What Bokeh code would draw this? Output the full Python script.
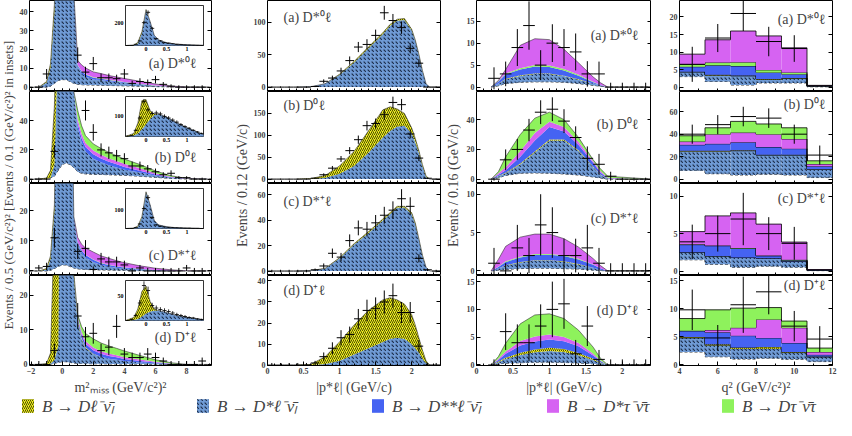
import numpy as np
from bokeh.plotting import figure
from bokeh.layouts import row, column
from bokeh.models import Range1d, FixedTicker, Label, Legend, LegendItem, LinearAxis
from bokeh.embed import file_html
from bokeh.resources import INLINE
from bokeh.core.properties import value

nan = float("nan")
SERIF = "Liberation Serif"

# ---------------- column 1 : m2_miss ----------------
MM_X = [-2.1, -1.5, -1.0, -0.75, -0.5, -0.25, 0.0, 0.25, 0.5, 0.75, 1.0, 1.25, 1.5, 2.0, 2.5, 3.0, 3.5, 4.0, 5.0, 6.0, 7.0, 8.0, 9.6]
MM_A_BG = [0, 0, 0, 0.5, 2, 3.5, 4, 4, 3, 2, 1.5, 1.3, 1.2, 1.1, 1.0, 0.9, 0.8, 0.7, 0.5, 0.3, 0.1, 0, 0]
MM_A_DSL = [0, 0, 2.5, 10, 38, 150, 400, 400, 150, 48, 9.5, 6, 4.5, 3, 2.8, 2.3, 1.9, 1.5, 0.9, 0.4, 0.1, 0, 0]
MM_A_DL = [0, 0, 0.5, 2, 4, 3, 1, 0, 0, 0, 0, 0, 0, 0, 0, 0, 0, 0, 0, 0, 0, 0, 0]
MM_A_DSS = [0, 0, 0, 0, 0, 0, 0, 0, 0, 0, 0.5, 1.0, 1.0, 0.9, 0.7, 0.6, 0.5, 0.4, 0.3, 0.1, 0, 0, 0]
MM_A_DT = [0, 0, 0, 0, 0, 0, 0, 0, 0, 0, 0.2, 0.3, 0.3, 0.3, 0.3, 0.2, 0.2, 0.2, 0.1, 0.1, 0, 0, 0]
MM_A_DST = [0, 0, 0, 0, 0, 0, 0, 0, 0, 0, 2.5, 3.2, 3.2, 2.8, 2.4, 2.2, 2.0, 1.8, 1.3, 0.8, 0.4, 0.1, 0]

MM_B_BG = [0, 0, 0.3, 0.8, 2, 6, 10, 11, 10, 8, 5, 4, 3.6, 3.3, 3.2, 3.0, 2.8, 2.6, 2.0, 1.2, 0.5, 0.1, 0]
MM_B_DSL = [0, 0, 0, 0.2, 8, 94, 490, 489, 190, 52, 30, 21, 15.4, 10.7, 8.3, 6.5, 5.2, 3.9, 2.5, 1.3, 0.5, 0.2, 0]
MM_B_DL = [0, 0, 0.5, 5, 40, 60, 30, 5, 0, 0, 0, 0, 0, 0, 0, 0, 0, 0, 0, 0, 0, 0, 0]
MM_B_DSS = [0, 0, 0, 0, 0, 0, 0, 0, 0, 0, 3, 3, 3, 3, 2.7, 2.4, 2.1, 1.8, 1.3, 0.7, 0.3, 0, 0]
MM_B_DST = [0, 0, 0, 0, 0, 0, 0, 0, 0, 0, 3, 3, 2.8, 2.6, 2.5, 2.4, 2.3, 2.2, 1.7, 0.9, 0.4, 0.1, 0]
MM_B_DT = [0, 0, 0, 0, 0, 0, 0, 0, 0, 0, 6, 5.5, 5, 4.5, 4.3, 4, 3.6, 3.2, 2.5, 1.5, 0.6, 0.1, 0]

MM_C_BG = [0, 0, 0, 0.2, 0.8, 1.5, 2, 2, 1.5, 1, 0.7, 0.6, 0.5, 0.4, 0.35, 0.3, 0.25, 0.2, 0.1, 0.05, 0, 0, 0]
MM_C_DSL = [0, 0, 0.5, 3.8, 19, 98, 298, 298, 98, 17, 8.3, 5.4, 4, 2.6, 1.65, 1.2, 0.85, 0.6, 0.3, 0.15, 0.1, 0, 0]
MM_C_DL = [0, 0, 0.3, 1, 2, 2, 1, 0, 0, 0, 0, 0, 0, 0, 0, 0, 0, 0, 0, 0, 0, 0, 0]
MM_C_DSS = [0, 0, 0, 0, 0, 0, 0, 0, 0, 0, 0.5, 0.8, 0.8, 0.7, 0.6, 0.5, 0.4, 0.35, 0.25, 0.1, 0.05, 0, 0]
MM_C_DT = [0, 0, 0, 0, 0, 0, 0, 0, 0, 0, 0.1, 0.1, 0.1, 0.1, 0.1, 0.1, 0.1, 0.1, 0.05, 0, 0, 0, 0]
MM_C_DST = [0, 0, 0, 0, 0, 0, 0, 0, 0, 0, 1.5, 2, 2.2, 2.5, 2.3, 2.1, 1.8, 1.5, 1.0, 0.6, 0.25, 0.05, 0]

MM_D_BG = [0, 0, 0, 0.1, 0.3, 0.6, 0.8, 0.8, 0.6, 0.4, 0.3, 0.3, 0.25, 0.2, 0.2, 0.15, 0.15, 0.1, 0.1, 0.05, 0, 0, 0]
MM_D_DSL = [0, 0, 0, 0.2, 1, 5, 200, 200, 80, 25, 12, 7, 4.5, 2.8, 2.0, 1.5, 1.2, 0.9, 0.5, 0.3, 0.1, 0, 0]
MM_D_DL = [0, 0, 0.3, 3, 40, 80, 20, 5, 2, 1, 0.5, 0.3, 0.2, 0.1, 0, 0, 0, 0, 0, 0, 0, 0, 0]
MM_D_DSS = [0, 0, 0, 0, 0, 0, 0, 0, 0, 0, 0.5, 1, 1, 1, 0.9, 0.8, 0.7, 0.6, 0.4, 0.2, 0.1, 0, 0]
MM_D_DST = [0, 0, 0, 0, 0, 0, 0, 0, 0, 0, 0.5, 0.8, 0.8, 0.8, 0.7, 0.7, 0.6, 0.5, 0.4, 0.2, 0.1, 0, 0]
MM_D_DT = [0, 0, 0, 0, 0, 0, 0, 0, 0, 0, 0.5, 1.5, 2.2, 2.5, 2.4, 2.2, 2.0, 1.8, 1.2, 0.6, 0.2, 0, 0]

MM_PX = [-1.5, -1.0, -0.5, 0.0, 0.5, 1.0, 1.5, 2.0, 2.5, 3.0, 3.5, 4.0, 4.5, 5.0, 5.5, 6.0, 6.5, 7.0, 7.5, 8.0, 8.5, 9.0]
MM_A_PTS = [0, 7, 60, 300, 250, 17, 8, 12.5, 5, 5, 4.5, 7, 2, 3, 2.5, 4, 1.5, 0.5, 0, 0, 0, 0]
MM_B_PTS = [0, 0, 19, 500, 400, 100, 47, 32, 20, 18, 16, 14, 9, 9, 7, 5, 3, 4, 1, 1, 0, 0]
MM_C_PTS = [1, 1.5, 11, 300, 200, 6.5, 7.5, 0.5, 4, 3, 3, 2, 0, 1, 0, 0, 0, 0, 0, 1, 0, 0]
MM_D_PTS = [0, 0, 4, 200, 200, 14, 8, 9, 4, 5, 11, 3, 2, 2, 3, 2, 1, 0, 0, 0, 0, 1]

# insets (0.1 GeV^2 bins)
IN_XLIM = (-0.5, 1.4)
IN_X = [-0.5, -0.3, -0.2, -0.1, 0.0, 0.1, 0.2, 0.3, 0.5, 0.7, 1.0, 1.4]
IN_A_DSL = [0, 3, 20, 110, 310, 210, 90, 50, 25, 14, 6, 1]
IN_A_DL = [0, 2, 6, 10, 5, 0, 0, 0, 0, 0, 0, 0]
IN_B_DSL = [0, 5, 15, 35, 60, 85, 105, 110, 95, 72, 43, 10]
IN_B_DL = [0, 10, 50, 140, 120, 40, 5, 0, 0, 0, 0, 0]
IN_C_DSL = [0, 2, 10, 60, 200, 130, 45, 20, 10, 5, 2, 0]
IN_C_DL = [0, 1, 3, 5, 2, 0, 0, 0, 0, 0, 0, 0]
IN_D_DSL = [0, 1, 3, 8, 14, 18, 20, 20, 16, 11, 6, 2]
IN_D_DL = [0, 5, 20, 50, 55, 20, 3, 0, 0, 0, 0, 0]
IN_PX = [-0.45, -0.35, -0.25, -0.15, -0.05, 0.05, 0.15, 0.25, 0.35, 0.45, 0.55, 0.65, 0.75, 0.85, 0.95, 1.05, 1.15, 1.25, 1.35]
IN_A_PTS = [0, 0, 10, 40, 200, 290, 150, 60, 40, 25, 20, 15, 10, 8, 5, 4, 3, 2, 1]
IN_B_PTS = [2, 5, 30, 90, 170, 130, 112, 115, 110, 98, 90, 80, 70, 58, 48, 40, 30, 22, 15]
IN_C_PTS = [0, 0, 5, 25, 110, 170, 60, 20, 12, 8, 6, 5, 4, 3, 2, 2, 1, 1, 0]
IN_D_PTS = [0, 2, 10, 35, 70, 60, 30, 25, 22, 20, 18, 15, 12, 10, 8, 6, 5, 3, 2]
IN_YMAX = [350, 195, 220, 80]
IN_YTICK = [200, 100, 100, 50]

# ---------------- column 2 : |p*_l|, all events ----------------
P_X = [0.4, 0.6, 0.8, 1.0, 1.2, 1.4, 1.6, 1.7, 1.8, 1.9, 2.0, 2.05, 2.1, 2.15, 2.2, 2.25, 2.4]
P_A_DSL = [0, 0.5, 5, 19, 38, 60, 82, 95, 103, 104, 88, 72, 50, 25, 5, 0, 0]
P_A_DL = [0, 0, 0.3, 1, 1.5, 2, 2, 2, 2, 2, 1.5, 1, 1, 0.5, 0, 0, 0]
P_B_DSL = [0, 0.5, 3, 12, 30, 60, 95, 110, 120, 122, 105, 85, 60, 30, 5, 0, 0]
P_B_DL = [0, 1, 5, 18, 33, 50, 63, 55, 40, 28, 12, 8, 5, 3, 2, 0, 0]
P_C_DSL = [0, 0.3, 2, 10, 21, 30, 40, 45, 50, 50, 45, 37, 25, 12, 3, 0, 0]
P_C_DL = [0, 0, 0.2, 0.5, 0.5, 1, 1, 1, 1, 1, 1, 1, 0.5, 0.5, 0, 0, 0]
P_D_DSL = [0, 0, 0.5, 2, 5, 8, 11, 12.5, 13, 12.5, 10, 8, 6, 3, 1, 0, 0]
P_D_DL = [0, 0.3, 3.5, 9, 14, 18, 20, 19.5, 18, 16.5, 14, 11, 7, 4, 1, 0, 0]
P_PX = [0.06, 0.18, 0.30, 0.42, 0.54, 0.66, 0.78, 0.90, 1.02, 1.14, 1.26, 1.38, 1.50, 1.62, 1.74, 1.86, 1.98, 2.10, 2.22, 2.34]
P_A_PTS = [0, 0, 0, 0, 0, 1, 9, 14, 25, 41, 62, 66, 80, 115, 103, 92, 60, 37, 0, 0]
P_B_PTS = [0, 0, 0, 0, 0, 2, 10, 25, 46, 65, 90, 122, 127, 147, 175, 170, 103, 48, 2, 0]
P_C_PTS = [0, 0, 0, 0, 0, 1, 4, 14, 11, 24, 34, 33, 38, 44, 48, 57, 51, 10, 1, 0]
P_D_PTS = [0, 0, 0, 0, 0, 1, 4, 8, 13, 14.5, 22, 26, 27, 30, 33, 25, 25, 9, 0, 0]

# ---------------- column 3 : |p*_l|, high m2_miss ----------------
H_X = [0.2, 0.3, 0.4, 0.6, 0.8, 1.0, 1.2, 1.4, 1.6, 1.7, 1.8, 2.4]
H_A_BG = [0, 0.3, 0.8, 1.1, 1.2, 1.2, 1.1, 0.8, 0.4, 0.2, 0, 0]
H_A_DSL = [0, 0.5, 1.0, 1.5, 1.8, 1.8, 1.4, 0.9, 0.4, 0.2, 0, 0]
H_A_DL = [0, 0, 0.1, 0.1, 0.1, 0.1, 0.1, 0.1, 0, 0, 0, 0]
H_A_DSS = [0, 0.5, 1.0, 1.3, 1.6, 1.5, 1.2, 0.8, 0.3, 0.1, 0, 0]
H_A_DT = [0, 0.1, 0.2, 0.3, 0.3, 0.3, 0.3, 0.2, 0.1, 0, 0, 0]
H_A_DST = [0, 0.1, 0.9, 5.2, 6.0, 5.9, 4.5, 2.7, 1.1, 0.5, 0, 0]
H_B_BG = [0, 1, 2.5, 4, 4.2, 4, 3.5, 2.8, 1.5, 0.8, 0, 0]
H_B_DSL = [0, 1, 1.5, 6, 13.8, 22, 22.5, 16.2, 6.5, 2.2, 0.2, 0]
H_B_DL = [0, 0.2, 0.3, 0.5, 0.6, 0.6, 0.6, 0.5, 0.3, 0.1, 0.1, 0]
H_B_DSS = [0, 0.8, 1.7, 4.5, 7.4, 8.4, 5.4, 3.5, 2.7, 1.4, 0.3, 0]
H_B_DST = [0, 1, 2, 4, 5, 3.5, 3, 2, 1, 1, 0.4, 0]
H_B_DT = [0, 1, 7, 11, 10, 6.5, 5, 3, 1, 1.5, 1, 0]
H_C_BG = [0, 0.1, 0.2, 0.3, 0.35, 0.35, 0.3, 0.25, 0.1, 0.05, 0, 0]
H_C_DSL = [0, 0.2, 0.5, 0.8, 1.0, 1.0, 0.9, 0.6, 0.3, 0.1, 0, 0]
H_C_DL = [0, 0, 0.05, 0.05, 0.05, 0.05, 0.05, 0.05, 0, 0, 0, 0]
H_C_DSS = [0, 0.2, 0.4, 0.6, 0.7, 0.7, 0.7, 0.6, 0.4, 0.2, 0, 0]
H_C_DT = [0, 0.05, 0.1, 0.1, 0.1, 0.1, 0.1, 0.1, 0.05, 0, 0, 0]
H_C_DST = [0, 0.95, 1.95, 2.55, 2.6, 2.6, 2.15, 1.5, 0.75, 0.35, 0, 0]
H_D_BG = [0, 0.2, 0.3, 0.4, 0.5, 0.5, 0.45, 0.35, 0.2, 0.1, 0, 0]
H_D_DSL = [0, 0.3, 0.8, 1.4, 1.8, 2.0, 1.9, 1.4, 0.7, 0.3, 0, 0]
H_D_DL = [0, 0.1, 0.2, 0.4, 0.5, 0.6, 0.5, 0.4, 0.2, 0.1, 0, 0]
H_D_DSS = [0, 0.3, 0.7, 1.3, 1.4, 1.5, 1.4, 1.2, 0.6, 0.2, 0, 0]
H_D_DST = [0, 0.2, 0.4, 0.8, 0.9, 0.9, 0.8, 0.6, 0.3, 0.1, 0, 0]
H_D_DT = [0, 0.4, 1.5, 3.1, 3.9, 3.7, 3.3, 2.3, 1.2, 0.4, 0, 0]
H_PX = [0.08, 0.24, 0.40, 0.56, 0.72, 0.88, 1.04, 1.20, 1.36, 1.52, 1.68, 1.84, 2.00, 2.16, 2.32]
H_A_PTS = [nan, 2, 3, 9, 14, 5, 10, 9, 8, 3, 3, 0, 0, 0, 0]
H_A_ERR = [0, 2.5, 2.8, 4.2, 5.5, 3.4, 4.3, 4.2, 4.2, 2.9, 2.8, 1, 1, 1, 1]
H_B_PTS = [nan, 0, 13, 20, 33, 45, 47, 39, 28, 14, 10, 2, 0, 0, 0]
H_B_ERR = [0, 1, 7, 7, 7.5, 8, 8, 8, 7.5, 8, 7, 3, 1, 1, 1]
H_C_PTS = [nan, 1, 0, 3, 2, 6, 5, 2, 2, 3, 1, 0, 0, 0, 0]
H_C_ERR = [0, 2, 1, 3, 2.3, 4, 3.3, 2.2, 2.2, 3, 2, 1, 1, 1, 1]
H_D_PTS = [nan, 0, 6, 4, 4, 7, 10, 11, 2, 7, 1, 0, 0, 0, 0]
H_D_ERR = [0, 1, 3.3, 3.3, 3.3, 3.9, 5, 4.5, 2.5, 3.6, 1.7, 1, 1, 1, 1]

# ---------------- column 4 : q2 ----------------
Q_EDGES = [4.0, 5.333, 6.667, 8.0, 9.333, 10.667, 12.0]
Q_A_BG = [3, 1.6, 0.6, 1.2, 1.2, 0.1]
Q_A_DSL = [1.3, 1.8, 2.6, 1.0, 1.3, 0.2]
Q_A_DL = [0.1, 0.1, 0.1, 0.1, 0.1, 0]
Q_A_DSS = [1.4, 2.7, 2.7, 1.9, 1.1, 0.1]
Q_A_DT = [0.7, 0.8, 1.1, 0.7, 0.5, 0.05]
Q_A_DST = [2.9, 6.5, 8.9, 9.7, 7.0, 0.05]
Q_B_BG = [7.7, 4.8, 3.7, 4.3, 3.7, 1.4]
Q_B_DSL = [17.2, 20.1, 21.5, 17.1, 17.7, 7.2]
Q_B_DL = [0.3, 0.3, 0.5, 0.3, 0.3, 0.2]
Q_B_DSS = [5.3, 6.2, 7.1, 6.8, 5.4, 2.6]
Q_B_DST = [2.9, 8.6, 8.6, 11.5, 8.6, 2.0]
Q_B_DT = [5.2, 5.7, 10, 9.1, 10, 2.9]
Q_C_BG = [1.5, 0.9, 0.5, 0.65, 0.5, 0.05]
Q_C_DSL = [1.0, 1.1, 1.3, 1.05, 0.8, 0.05]
Q_C_DL = [0.02, 0.02, 0.02, 0.02, 0.02, 0]
Q_C_DSS = [1.0, 1.35, 1.2, 0.3, 0.13, 0.05]
Q_C_DT = [0.05, 0.05, 0.05, 0.05, 0.05, 0]
Q_C_DST = [1.7, 3.95, 4.7, 4.2, 2.37, 0.05]
Q_D_BG = [2.3, 1.45, 1.05, 1.2, 1.0, 0.6]
Q_D_DSL = [2.5, 2.05, 1.85, 1.7, 1.2, 0.8]
Q_D_DL = [0.15, 0.2, 0.2, 0.3, 0.1, 0.1]
Q_D_DSS = [1.1, 2.1, 2.1, 1.6, 1.6, 0.3]
Q_D_DST = [0.05, 0.4, 1.4, 3.3, 2.7, 0.5]
Q_D_DT = [2.15, 3.6, 3.5, 2.1, 1.2, 0.7]
Q_A_PTS = [6.5, 14, 21, 13, 11, nan]
Q_A_ERR = [5, 4, 5, 4.2, 3.8, 0]
Q_B_PTS = [40, 48.5, 55.7, 54.3, 40, 21.4]
Q_B_ERR = [8.5, 8.5, 8.7, 8.7, 8.5, 8.5]
Q_C_PTS = [3.9, 5.0, 6.95, 5.0, 3.7, nan]
Q_C_ERR = [2.3, 2.4, 3.5, 2.2, 2.2, 0]
Q_D_PTS = [9.8, 4.8, 10.7, 13.0, 6.9, 4.6]
Q_D_ERR = [3.6, 2.3, 5, 4, 2.7, 2.3]

TAGS = ["(a) D*⁰ℓ", "(b) D⁰ℓ", "(c) D*⁺ℓ", "(d) D⁺ℓ"]
LEGEND_KEYS = ["dl", "dsl", "dss", "dst", "dt"]
LEGEND_LABELS = ["B → Dℓ⁻ν̄ₗ", "B → D*ℓ⁻ν̄ₗ", "B → D**ℓ⁻ν̄ₗ", "B → D*τ⁻ν̄τ", "B → Dτ⁻ν̄τ"]

# ---------------- styles ----------------
STY = {
    "bg": dict(fill_color="white"),
    "dsl": dict(fill_color="#6f9ad4", hatch_pattern="left_diagonal_dash", hatch_color="#0d1a33",
                hatch_scale=4, hatch_weight=1.1, hatch_alpha=0.85),
    "dl": dict(fill_color="#f2f21e", hatch_pattern="right_diagonal_line", hatch_color="#222200",
               hatch_scale=4, hatch_weight=0.8),
    "dss": dict(fill_color="#4563f2"),
    "dst": dict(fill_color="#d663f2"),
    "dt": dict(fill_color="#8ef25c"),
}
ORDER_DSTAR = ["bg", "dsl", "dl", "dss", "dt", "dst"]
ORDER_D = ["bg", "dsl", "dl", "dss", "dst", "dt"]
ROW_H = [91, 92, 92, 90]


def make_panel(xr, yr, fw, fh, yticks, xticks, xminor, mbl, mbr, bottom, xlabel=None, xover=None):
    p = figure(x_range=Range1d(*xr), y_range=Range1d(*yr), frame_width=fw, frame_height=fh,
               output_backend="svg", toolbar_location=None,
               min_border_left=mbl, min_border_right=mbr, min_border_top=0, min_border_bottom=0)
    p.grid.visible = False
    p.outline_line_color = "black"
    p.outline_line_alpha = 1.0
    p.outline_line_width = 1
    p.background_fill_color = "white"
    p.border_fill_color = "white"
    xa = p.xaxis[0]
    ya = p.yaxis[0]
    ya.ticker = FixedTicker(ticks=yticks)
    if bottom:
        xa.ticker = FixedTicker(ticks=xticks, minor_ticks=xminor)
    else:
        # tick marks only, no labels (ticks drawn as minor marks)
        xa.ticker = FixedTicker(ticks=[], minor_ticks=list(xticks) + list(xminor))
    for ax in (xa, ya):
        ax.axis_line_color = None
        ax.major_tick_in = 4
        ax.major_tick_out = 0
        ax.minor_tick_in = 2
        ax.minor_tick_out = 0
        ax.major_tick_line_color = "black"
        ax.minor_tick_line_color = "black"
        ax.major_label_text_font = SERIF
        ax.major_label_text_font_size = "8px"
        ax.major_label_text_font_style = "bold"
        ax.major_label_standoff = 2
    if bottom:
        xa.axis_label = xlabel
        xa.axis_label_text_font = SERIF
        xa.axis_label_text_font_size = "14px"
        xa.axis_label_text_font_style = "normal"
        xa.axis_label_standoff = 3
        if xover:
            xa.major_label_overrides = xover
    else:
        xa.minor_tick_in = 3
        xa.major_label_standoff = 0
    return p


def stack_area(p, x, comps, order, clip=None, **kw):
    x = np.asarray(x, float)
    base = np.zeros(len(x))
    for key in order:
        if key not in comps:
            continue
        top = base + np.asarray(comps[key], float)
        b, t = (base, top) if clip is None else (np.minimum(base, clip), np.minimum(top, clip))
        p.varea(x=x, y1=b, y2=t, **STY[key], **kw)
        if key == "bg":
            p.line(x, t, line_color="black", line_dash="3 2", line_width=0.8, **kw)
        base = top
    tb = base if clip is None else np.minimum(base, clip)
    p.line(x, tb, line_color="#333333", line_width=0.6, **kw)


def stack_hist(p, edges, comps, order):
    e = np.asarray(edges, float)
    base = np.zeros(len(e) - 1)
    for key in order:
        top = base + np.asarray(comps[key], float)
        p.quad(left=e[:-1], right=e[1:], bottom=base, top=top, line_color=None, **STY[key])
        p.step(x=e, y=np.append(top, top[-1]), mode="after", line_color="black", line_width=0.8,
               line_dash="3 2" if key == "bg" else "solid")
        base = top


def data_points(p, x, y, hw, err=None, lw=1.0, **kw):
    x = np.asarray(x, float)
    y = np.asarray(y, float)
    e = np.sqrt(np.maximum(np.nan_to_num(y), 1.0)) if err is None else np.asarray(err, float)
    p.segment(x0=x - hw, x1=x + hw, y0=y, y1=y, line_color="black", line_width=lw, **kw)
    p.segment(x0=x, x1=x, y0=y - e, y1=y + e, line_color="black", line_width=lw, **kw)


def add_inset(p, fw, fh, dsl, dl, pts, ymax, ytick):
    left, right, top, bot = 96.0, 174.0, 5.0, 45.0
    x0, x1 = IN_XLIM
    sx = (x1 - x0) / (right - left)
    xs = x0 - left * sx
    sy = ymax / (bot - top)
    ys = -(fh - bot) * sy
    p.extra_x_ranges = {"ins": Range1d(xs, xs + fw * sx)}
    p.extra_y_ranges = {"ins": Range1d(ys, ys + fh * sy)}
    kw = dict(x_range_name="ins", y_range_name="ins")
    p.quad(left=[x0], right=[x1], bottom=[0], top=[ymax], fill_color="white",
           line_color="black", line_width=0.8, **kw)
    stack_area(p, IN_X, {"dsl": dsl, "dl": dl}, ["dsl", "dl"], clip=ymax, **kw)
    y = np.asarray(pts, float)
    e = np.sqrt(np.maximum(y, 1.0))
    y = np.where(y > ymax, np.nan, y)
    x = np.asarray(IN_PX, float)
    p.segment(x0=x - 0.05, x1=x + 0.05, y0=y, y1=y, line_color="black", line_width=0.8, **kw)
    p.segment(x0=x, x1=x, y0=np.maximum(y - e, 0), y1=np.minimum(y + e, ymax),
              line_color="black", line_width=0.8, **kw)
    p.text(x=[0.0, 0.5, 1.0], y=[0, 0, 0], text=["0", "0.5", "1"], text_font=value(SERIF),
           text_font_size="6px", text_font_style="bold", text_align="center",
           text_baseline="top", y_offset=1, **kw)
    p.text(x=[x0], y=[ytick], text=[str(ytick)], text_font=value(SERIF), text_font_size="6px",
           text_font_style="bold", text_align="right", text_baseline="middle", x_offset=-2, **kw)


def add_tag(p, text, x, y, align):
    p.add_layout(Label(x=x, y=y, x_units="screen", y_units="screen", text=text, text_align=align,
                       text_baseline="middle", text_font=SERIF, text_font_size="14px"))


def add_right_ticks(p, yticks):
    ra = LinearAxis(ticker=FixedTicker(ticks=[], minor_ticks=list(yticks)), axis_line_color=None,
                    major_tick_in=0, major_tick_out=0, minor_tick_in=4, minor_tick_out=0,
                    major_label_standoff=0, minor_tick_line_color="black")
    p.add_layout(ra, "right")


def ylabel_fig(h, text, yc, size):
    p = figure(frame_width=16, frame_height=h, x_range=Range1d(0, 1), y_range=Range1d(0, 1),
               output_backend="svg", toolbar_location=None, x_axis_location=None,
               y_axis_location=None, min_border=0)
    p.outline_line_color = None
    p.grid.visible = False
    p.add_layout(Label(x=8, y=yc, x_units="screen", y_units="screen", text=text, angle=90,
                       angle_units="deg", text_align="center", text_baseline="middle",
                       text_font=SERIF, text_font_size=size))
    return p


TOTAL_H = sum(ROW_H)

# ---------- column 1 ----------
c1_comps = [
    dict(bg=MM_A_BG, dsl=MM_A_DSL, dl=MM_A_DL, dss=MM_A_DSS, dt=MM_A_DT, dst=MM_A_DST),
    dict(bg=MM_B_BG, dsl=MM_B_DSL, dl=MM_B_DL, dss=MM_B_DSS, dt=MM_B_DT, dst=MM_B_DST),
    dict(bg=MM_C_BG, dsl=MM_C_DSL, dl=MM_C_DL, dss=MM_C_DSS, dt=MM_C_DT, dst=MM_C_DST),
    dict(bg=MM_D_BG, dsl=MM_D_DSL, dl=MM_D_DL, dss=MM_D_DSS, dt=MM_D_DT, dst=MM_D_DST),
]
c1_pts = [MM_A_PTS, MM_B_PTS, MM_C_PTS, MM_D_PTS]
c1_ins = [(IN_A_DSL, IN_A_DL, IN_A_PTS), (IN_B_DSL, IN_B_DL, IN_B_PTS),
          (IN_C_DSL, IN_C_DL, IN_C_PTS), (IN_D_DSL, IN_D_DL, IN_D_PTS)]
c1_yr = [(-2.3, 46), (-3.0, 60), (-1.5, 29), (-0.3, 25.7)]
c1_yt = [[0, 10, 20, 30, 40], [0, 20, 40], [0, 10, 20], [0, 10, 20]]
c1_ord = [ORDER_DSTAR, ORDER_D, ORDER_DSTAR, ORDER_D]
c1_tag = [63, 66, 72, 62]
col1 = []
for i in range(4):
    fw, fh = 182, ROW_H[i]
    p = make_panel((-2.1, 9.6), c1_yr[i], fw, fh, c1_yt[i], [-2, 0, 2, 4, 6, 8],
                   [k * 0.5 for k in range(-4, 20)], 13, 23, i == 3,
                   "m²ₘᵢₛₛ (GeV/c²)²")
    add_right_ticks(p, c1_yt[i])
    stack_area(p, MM_X, c1_comps[i], c1_ord[i])
    data_points(p, MM_PX, c1_pts[i], 0.25)
    add_inset(p, fw, fh, *c1_ins[i], IN_YMAX[i], IN_YTICK[i])
    add_tag(p, TAGS[i], 167, fh - c1_tag[i], "right")
    col1.append(p)

# ---------- column 2 ----------
c2_comps = [dict(dsl=P_A_DSL, dl=P_A_DL), dict(dsl=P_B_DSL, dl=P_B_DL),
            dict(dsl=P_C_DSL, dl=P_C_DL), dict(dsl=P_D_DSL, dl=P_D_DL)]
c2_pts = [P_A_PTS, P_B_PTS, P_C_PTS, P_D_PTS]
c2_yr = [(-6.8, 134), (-10, 200), (-3.5, 69), (-0.2, 42.6)]
c2_yt = [[0, 50, 100], [0, 50, 100, 150], [0, 20, 40, 60], [0, 10, 20, 30, 40]]
c2_tag = [17, 14, 18, 15]
minor01 = [k * 0.1 for k in range(0, 25)]
col2 = []
for i in range(4):
    fw, fh = 173, ROW_H[i]
    p = make_panel((0, 2.4), c2_yr[i], fw, fh, c2_yt[i], [0, 0.5, 1.0, 1.5, 2.0], minor01,
                   16, 5, i == 3, "|p*ℓ| (GeV/c)", {0: "0"})
    add_right_ticks(p, c2_yt[i])
    stack_area(p, P_X, c2_comps[i], ["dsl", "dl"])
    data_points(p, P_PX, c2_pts[i], 0.06)
    add_tag(p, TAGS[i], 16, fh - c2_tag[i], "left")
    col2.append(p)

# ---------- column 3 ----------
c3_comps = [
    dict(bg=H_A_BG, dsl=H_A_DSL, dl=H_A_DL, dss=H_A_DSS, dt=H_A_DT, dst=H_A_DST),
    dict(bg=H_B_BG, dsl=H_B_DSL, dl=H_B_DL, dss=H_B_DSS, dt=H_B_DT, dst=H_B_DST),
    dict(bg=H_C_BG, dsl=H_C_DSL, dl=H_C_DL, dss=H_C_DSS, dt=H_C_DT, dst=H_C_DST),
    dict(bg=H_D_BG, dsl=H_D_DSL, dl=H_D_DL, dss=H_D_DSS, dt=H_D_DT, dst=H_D_DST),
]
c3_pts = [(H_A_PTS, H_A_ERR), (H_B_PTS, H_B_ERR), (H_C_PTS, H_C_ERR), (H_D_PTS, H_D_ERR)]
c3_yr = [(-1.0, 19.7), (-2.9, 58.9), (-0.6, 11.4), (-0.1, 16.1)]
c3_yt = [[0, 5, 10, 15], [0, 20, 40], [0, 5, 10], [0, 5, 10, 15]]
c3_tag = [35, 33, 35, 35]
col3 = []
for i in range(4):
    fw, fh = 175, ROW_H[i]
    p = make_panel((0, 2.4), c3_yr[i], fw, fh, c3_yt[i], [0, 0.5, 1.0, 1.5, 2.0], minor01,
                   15, 0, i == 3, "|p*ℓ| (GeV/c)", {0: "0"})
    add_right_ticks(p, c3_yt[i])
    stack_area(p, H_X, c3_comps[i], c1_ord[i])
    data_points(p, H_PX, c3_pts[i][0], 0.08, err=c3_pts[i][1])
    add_tag(p, TAGS[i], 162, fh - c3_tag[i], "right")
    col3.append(p)

# ---------- column 4 ----------
c4_comps = [
    dict(bg=Q_A_BG, dsl=Q_A_DSL, dl=Q_A_DL, dss=Q_A_DSS, dt=Q_A_DT, dst=Q_A_DST),
    dict(bg=Q_B_BG, dsl=Q_B_DSL, dl=Q_B_DL, dss=Q_B_DSS, dt=Q_B_DT, dst=Q_B_DST),
    dict(bg=Q_C_BG, dsl=Q_C_DSL, dl=Q_C_DL, dss=Q_C_DSS, dt=Q_C_DT, dst=Q_C_DST),
    dict(bg=Q_D_BG, dsl=Q_D_DSL, dl=Q_D_DL, dss=Q_D_DSS, dt=Q_D_DT, dst=Q_D_DST),
]
c4_pts = [(Q_A_PTS, Q_A_ERR), (Q_B_PTS, Q_B_ERR), (Q_C_PTS, Q_C_ERR), (Q_D_PTS, Q_D_ERR)]
c4_yr = [(-1.25, 24.7), (-3.9, 78), (-0.6, 11.7), (-0.1, 15.9)]
c4_yt = [[0, 5, 10, 15, 20], [0, 20, 40, 60], [0, 5, 10], [0, 5, 10, 15]]
c4_tag = [19, 13, 15, 10]
qe = np.asarray(Q_EDGES)
qc = (qe[:-1] + qe[1:]) / 2
col4 = []
for i in range(4):
    fw, fh = 153, ROW_H[i]
    p = make_panel((4, 12), c4_yr[i], fw, fh, c4_yt[i], [4, 6, 8, 10, 12], [5, 7, 9, 11],
                   28, 5, i == 3, "q² (GeV/c²)²")
    add_right_ticks(p, c4_yt[i])
    stack_hist(p, Q_EDGES, c4_comps[i], c1_ord[i])
    data_points(p, qc, c4_pts[i][0], (qe[1] - qe[0]) / 2, err=c4_pts[i][1])
    add_tag(p, TAGS[i], 146, fh - c4_tag[i], "right")
    col4.append(p)

ylab1 = ylabel_fig(TOTAL_H, "Events / 0.5 (GeV/c²)²  [Events / 0.1 (GeV/c²)² in insets]", 182, "13px")
ylab2 = ylabel_fig(TOTAL_H, "Events / 0.12 (GeV/c)", 180, "14px")
ylab3 = ylabel_fig(TOTAL_H, "Events / 0.16 (GeV/c)", 180, "14px")

# ---------- legend ----------
leg = figure(frame_width=836, frame_height=22, x_range=Range1d(0, 1), y_range=Range1d(0, 1),
             output_backend="svg", toolbar_location=None, x_axis_location=None,
             y_axis_location=None, min_border=0)
leg.outline_line_color = None
leg.grid.visible = False
items = []
for key, lab in zip(LEGEND_KEYS, LEGEND_LABELS):
    r = leg.quad(left=[5], right=[6], bottom=[5], top=[6], line_color=None, **STY[key])
    items.append(LegendItem(label=lab, renderers=[r]))
legend = Legend(items=items, orientation="horizontal", location=(20, 2),
                glyph_width=15, glyph_height=17, label_standoff=7, label_width=130,
                spacing=23, padding=0, margin=0, border_line_color=None,
                background_fill_alpha=0, label_text_font=SERIF, label_text_font_size="17px",
                label_text_font_style="italic")
leg.add_layout(legend)

top_row = row(ylab1, column(*col1), ylab2, column(*col2), ylab3, column(*col3), column(*col4))
layout = column(top_row, leg)

open("out.html", "w").write(file_html(layout, INLINE, title="B to D(*) tau nu fits"))
